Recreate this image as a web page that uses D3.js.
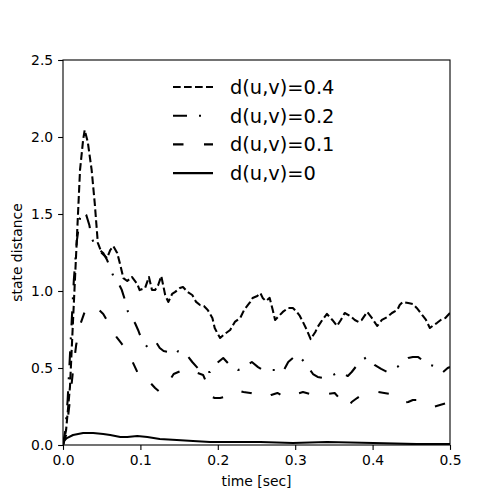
<!DOCTYPE html>
<html><head><meta charset="utf-8">
<script src="https://cdn.jsdelivr.net/npm/d3@7"></script>
<style>body{margin:0;background:#fff} text{font-family:"DejaVu Sans",sans-serif}</style>
</head><body><div id="chart"></div>
<script>
const xTicks = [0, 0.1, 0.2, 0.3, 0.4, 0.5];
const yTicks = [0, 0.5, 1.0, 1.5, 2.0, 2.5];
const seriesLabels = ["d(u,v)=0.4", "d(u,v)=0.2", "d(u,v)=0.1", "d(u,v)=0"];

const t04 = [0,.004,.009,.013,.018,.022,.026,.028,.032,.037,.041,.045,.050,.057,.061,.065,.070,.074,.078,.083,.089,.096,.099,.106,.111,.115,.119,.123,.127,.132,.136,.141,.145,.151,.155,.161,.167,.172,.177,.182,.187,.193,.196,.200,.203,.209,.216,.222,.229,.234,.238,.242,.245,.251,.255,.258,.262,.267,.271,.274,.279,.284,.291,.297,.302,.306,.310,.315,.320,.326,.329,.335,.341,.348,.354,.359,.364,.371,.377,.382,.386,.393,.399,.406,.412,.419,.425,.432,.435,.439,.446,.452,.457,.461,.465,.469,.474,.479,.483,.488,.494,.500];
const v04 = [0,.097,.377,.812,1.351,1.786,1.981,2.045,1.968,1.786,1.571,1.312,1.247,1.214,1.266,1.292,1.247,1.169,1.084,1.065,1.091,1.045,1.006,1.019,1.091,1.006,1.006,1.039,1.097,.974,.929,.981,.994,1.019,1.026,.994,.974,.929,.909,.903,.877,.825,.760,.721,.695,.721,.747,.799,.825,.877,.903,.929,.955,.968,.987,.955,.935,.955,.877,.812,.838,.864,.890,.890,.864,.838,.799,.747,.688,.734,.766,.812,.851,.812,.773,.812,.857,.838,.812,.799,.812,.864,.825,.773,.812,.831,.857,.877,.909,.929,.922,.916,.890,.864,.838,.812,.760,.779,.792,.812,.825,.857];

const t02 = [0,.003,.006,.010,.014,.018,.022,.026,.030,.034,.037,.041,.047,.052,.057,.061,.065,.071,.076,.080,.084,.088,.093,.097,.102,.106,.109,.112,.116,.121,.125,.130,.136,.142,.149,.152,.160,.167,.174,.182,.190,.195,.199,.207,.213,.220,.226,.233,.238,.244,.252,.258,.267,.278,.284,.291,.297,.304,.313,.323,.329,.336,.342,.349,.358,.368,.373,.380,.386,.393,.398,.403,.411,.419,.425,.432,.439,.446,.452,.459,.464,.468,.475,.483,.491,.497,.500];
const v02 = [0,.097,.292,.682,1.071,1.331,1.474,1.519,1.494,1.429,1.344,1.299,1.266,1.247,1.201,1.149,1.097,1.058,1.006,.942,.864,.825,.792,.747,.682,.656,.636,.656,.669,.662,.630,.610,.604,.584,.610,.610,.584,.539,.500,.474,.474,.513,.532,.565,.532,.506,.487,.500,.519,.539,.506,.487,.487,.487,.474,.539,.565,.584,.532,.461,.442,.435,.448,.455,.474,.448,.474,.519,.552,.571,.552,.519,.494,.474,.487,.506,.539,.565,.571,.571,.552,.532,.519,.506,.474,.500,.506];

const t01 = [0,.004,.006,.009,.013,.017,.022,.028,.032,.037,.044,.052,.058,.063,.070,.076,.083,.090,.096,.102,.107,.112,.119,.125,.132,.138,.143,.149,.155,.161,.168,.174,.181,.185,.187,.190,.196,.203,.209,.216,.225,.233,.242,.251,.261,.269,.277,.284,.293,.302,.310,.319,.332,.342,.351,.359,.367,.373,.380,.386,.397,.407,.415,.423,.430,.438,.446,.452,.461,.469,.478,.487,.496,.500];
const v01 = [0,.065,.162,.292,.487,.649,.779,.864,.890,.909,.890,.851,.799,.747,.695,.656,.617,.539,.474,.422,.403,.409,.370,.344,.370,.422,.461,.474,.487,.500,.494,.468,.455,.409,.370,.318,.305,.305,.312,.338,.357,.344,.338,.325,.305,.325,.338,.318,.305,.331,.344,.331,.318,.331,.338,.292,.240,.279,.305,.325,.338,.344,.338,.331,.305,.273,.279,.292,.292,.273,.247,.260,.273,.279];

const t00 = [0,.001,.005,.013,.026,.039,.052,.061,.074,.083,.096,.109,.125,.147,.168,.190,.212,.255,.297,.341,.401,.457,.500];
const v00 = [0,.026,.045,.065,.078,.078,.071,.065,.052,.052,.058,.052,.039,.032,.026,.019,.019,.019,.013,.019,.013,.006,.006];

const dashes = ["7.7,3.3", "14,12,2,12", "10.5,20.5", null];
const series = [[t04,v04],[t02,v02],[t01,v01],[t00,v00]].map((p,i)=>({
  label: seriesLabels[i], dash: dashes[i],
  pts: p[0].map((t,j)=>({t, v:p[1][j]}))
}));

const W=500,H=500;
const svg = d3.select("#chart").append("svg").attr("width",W).attr("height",H);
const x = d3.scaleLinear().domain([0,0.5]).range([63,450]);
const y = d3.scaleLinear().domain([0,2.5]).range([445,60]);

const line = d3.line().x(d=>x(d.t)).y(d=>y(d.v));
svg.append("defs").append("clipPath").attr("id","clip")
  .append("rect").attr("x",63).attr("y",60).attr("width",387).attr("height",385);
const g = svg.append("g").attr("clip-path","url(#clip)");
series.forEach(s=>{
  g.append("path").datum(s.pts).attr("d",line)
   .attr("fill","none").attr("stroke","#000").attr("stroke-width",2.08)
   .attr("stroke-linejoin","round")
   .attr("stroke-dasharray", s.dash);
});

const fs = "13.9px";
const xa = svg.append("g").attr("transform","translate(0,445)")
  .call(d3.axisBottom(x).tickValues(xTicks).tickFormat(d3.format(".1f")).tickSize(4.9).tickPadding(4.9));
const ya = svg.append("g").attr("transform","translate(63,0)")
  .call(d3.axisLeft(y).tickValues(yTicks).tickFormat(d3.format(".1f")).tickSize(4.9).tickPadding(4.9));
[xa,ya].forEach(a=>{
  a.select(".domain").remove();
  a.selectAll("line").attr("stroke","#000").attr("stroke-width",1.1);
  a.selectAll("text").attr("font-size",fs).attr("fill","#000").style("font-family","DejaVu Sans");
});
svg.append("rect").attr("x",63).attr("y",60).attr("width",387).attr("height",385)
  .attr("fill","none").attr("stroke","#000").attr("stroke-width",1.1);

svg.append("text").attr("x",256.5).attr("y",486).attr("text-anchor","middle")
  .attr("font-size",fs).text("time [sec]");
svg.append("text").attr("transform","translate(22,252.5) rotate(-90)").attr("text-anchor","middle")
  .attr("font-size",fs).text("state distance");

const leg = svg.append("g");
series.forEach((s,i)=>{
  const cy = 87 + i*28.7;
  leg.append("line").attr("x1",173).attr("x2",213).attr("y1",cy).attr("y2",cy)
    .attr("stroke","#000").attr("stroke-width",2.08).attr("stroke-dasharray",s.dash);
  leg.append("text").attr("x",230).attr("y",cy).attr("dy","0.36em")
    .attr("font-size","19.4px").text(s.label);
});
</script></body></html>
